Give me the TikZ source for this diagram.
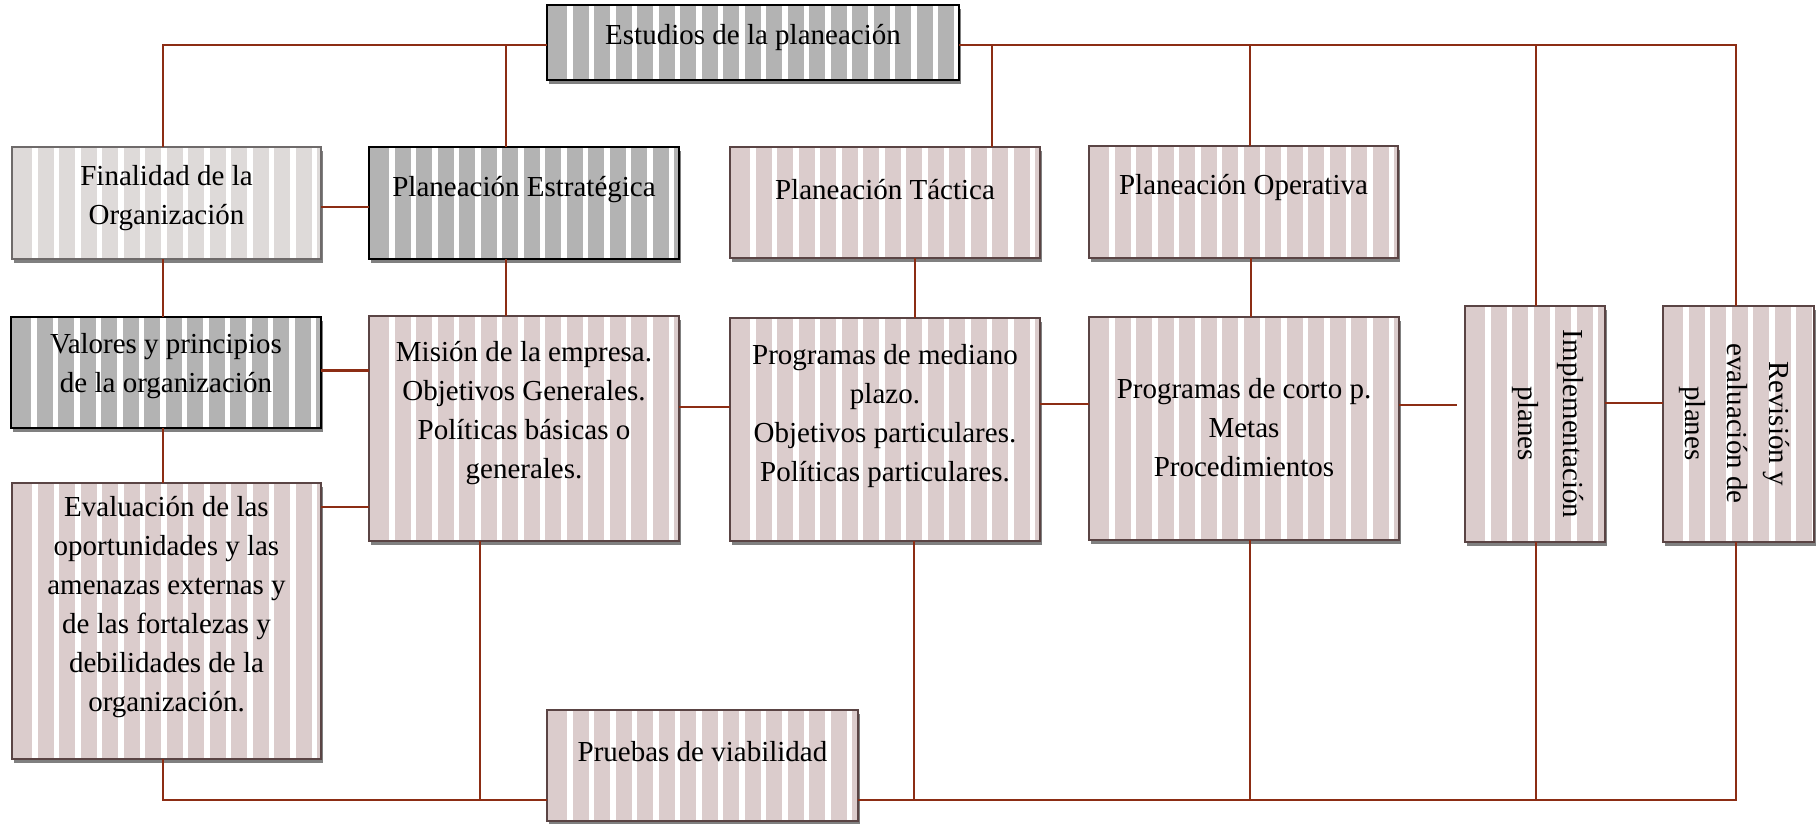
\documentclass[tikz,border=0pt]{standalone}
\usepackage{fontspec}
\setmainfont{Liberation Serif}
\pgfdeclarelayer{bg}
\pgfsetlayers{bg,main}

\definecolor{linkc}{RGB}{140,45,20}
\definecolor{darkfill}{RGB}{179,179,179}
\definecolor{lightfill}{RGB}{222,218,217}
\definecolor{lightedge}{RGB}{110,106,106}
\definecolor{pinkfill}{RGB}{219,204,204}
\definecolor{pinkedge}{RGB}{90,68,68}
\definecolor{shadowc}{RGB}{128,128,128}

\tikzset{
  stripes/.style={path picture={
    \foreach \k in {0,...,19}{
      \fill[white] ([xshift=20pt+\k*21.5pt, yshift=1pt]path picture bounding box.south west)
        rectangle ([xshift=25.5pt+\k*21.5pt, yshift=-1pt]path picture bounding box.north west);
    }}},
  box/.style={rectangle, inner sep=0pt, outer sep=0pt, stripes},
  darkbox/.style={box, fill=darkfill, draw=black, line width=2.6pt},
  lightbox/.style={box, fill=lightfill, draw=lightedge, line width=2pt},
  pinkbox/.style={box, fill=pinkfill, draw=pinkedge, line width=2pt},
  dims/.style 2 args={minimum width=#1pt, minimum height=#2pt},
  txt/.style={align=center, inner sep=0pt, font=\fontsize{29}{39}\selectfont},
  link/.style={draw=linkc, line width=2.2pt},
}

\begin{document}
\begin{tikzpicture}[x=1pt, y=-1pt]
\useasboundingbox (0,0) rectangle (1818,824);

% boxes
\node[darkbox,  dims={412}{75}]  (est) at (753,42.5) {};
\node[lightbox, dims={309}{112}] (fin) at (166.5,203) {};
\node[darkbox,  dims={310}{112}] (pe)  at (524,203) {};
\node[pinkbox,  dims={310}{111}] (pt)  at (885,202.5) {};
\node[pinkbox,  dims={309}{112}] (po)  at (1243.5,202) {};
\node[darkbox,  dims={310}{111}] (val) at (166,372.5) {};
\node[pinkbox,  dims={310}{225}] (mis) at (524,428.5) {};
\node[pinkbox,  dims={310}{223}] (med) at (885,429.5) {};
\node[pinkbox,  dims={310}{223}] (cor) at (1244,428.5) {};
\node[pinkbox,  dims={140}{236}] (imp) at (1535,424) {};
\node[pinkbox,  dims={151}{236}] (rev) at (1738.5,424) {};
\node[pinkbox,  dims={309}{276}] (eva) at (166.5,621) {};
\node[pinkbox,  dims={311}{111}] (pru) at (702.5,765.5) {};

% drop shadows
\begin{pgfonlayer}{bg}
\foreach \n in {est,fin,pe,pt,po,val,mis,med,cor,imp,rev,eva,pru}
  \fill[shadowc] ([xshift=2pt,yshift=-4pt]\n.south west) rectangle ([xshift=2pt,yshift=-4pt]\n.north east);
\end{pgfonlayer}

% texts
\node[txt] (est-t) at (753,38) {Estudios de la planeación};
\node[txt] (fin-t) at (166.5,198) {Finalidad de la\\Organización};
\node[txt] (pe-t)  at (524,190) {Planeación Estratégica};
\node[txt] (pt-t)  at (885,190) {Planeación Táctica};
\node[txt] (po-t)  at (1243.5,188) {Planeación Operativa};
\node[txt] (val-t) at (166,366) {Valores y principios\\de la organización};
\node[txt] (mis-t) at (524,413.5) {Misión de la empresa.\\Objetivos Generales.\\Políticas básicas o\\generales.};
\node[txt] (med-t) at (885,416) {Programas de mediano\\plazo.\\Objetivos particulares.\\Políticas particulares.};
\node[txt] (cor-t) at (1244,428) {Programas de corto p.\\Metas\\Procedimientos};
\node[txt] (eva-t) at (166.5,607) {Evaluación de las\\oportunidades y las\\amenazas externas y\\de las fortalezas y\\debilidades de la\\organización.};
\node[txt] (pru-t) at (702.5,752) {Pruebas de viabilidad};
\node[txt, rotate=-90, font=\fontsize{29}{45}\selectfont] (imp-t) at (1547.5,424) {Implementación\\planes};
\node[txt, rotate=-90, font=\fontsize{29}{42}\selectfont] (rev-t) at (1734,423.5) {Revisión y\\evaluación de\\planes};

% bus ends and junctions
\coordinate (tbL) at (163,45);
\coordinate (tbR) at (1736,45);
\coordinate (bbL) at (163,800);
\coordinate (bbR) at (1736,800);
\coordinate (impin) at (1457,405);

% upper bus
\draw[link] (est.west |- tbL) -- (tbL) -- (fin.north -| tbL);
\draw[link] (506,45) -- (pe.north -| 506,0);
\draw[link] (est.east |- tbR) -- (tbR) -- (rev.north -| tbR);
\draw[link] (992,45) -- (pt.north -| 992,0);
\draw[link] (1250,45) -- (po.north -| 1250,0);
\draw[link] (1536,45) -- (imp.north -| 1536,0);

% horizontal links
\draw[link] (fin.east |- 0,207) -- (pe.west |- 0,207);
\draw[link] (val.east |- 0,370.5) -- (mis.west |- 0,370.5);
\draw[link] (eva.east |- 0,507) -- (mis.west |- 0,507);
\draw[link] (mis.east |- 0,407) -- (med.west |- 0,407);
\draw[link] (med.east |- 0,404) -- (cor.west |- 0,404);
\draw[link] (cor.east |- impin) -- (impin);
\draw[link] (imp.east |- 0,403) -- (rev.west |- 0,403);

% vertical links
\draw[link] (fin.south -| 163,0) -- (val.north -| 163,0);
\draw[link] (val.south -| 163,0) -- (eva.north -| 163,0);
\draw[link] (pe.south -| 506,0) -- (mis.north -| 506,0);
\draw[link] (pt.south -| 915,0) -- (med.north -| 915,0);
\draw[link] (po.south -| 1251,0) -- (cor.north -| 1251,0);

% lower bus
\draw[link] (eva.south -| bbL) -- (bbL) -- (pru.west |- bbL);
\draw[link] (mis.south -| 480,0) -- (480,800);
\draw[link] (pru.east |- bbR) -- (bbR) -- (rev.south -| bbR);
\draw[link] (med.south -| 914,0) -- (914,800);
\draw[link] (cor.south -| 1250,0) -- (1250,800);
\draw[link] (imp.south -| 1536,0) -- (1536,800);
\end{tikzpicture}
\end{document}
